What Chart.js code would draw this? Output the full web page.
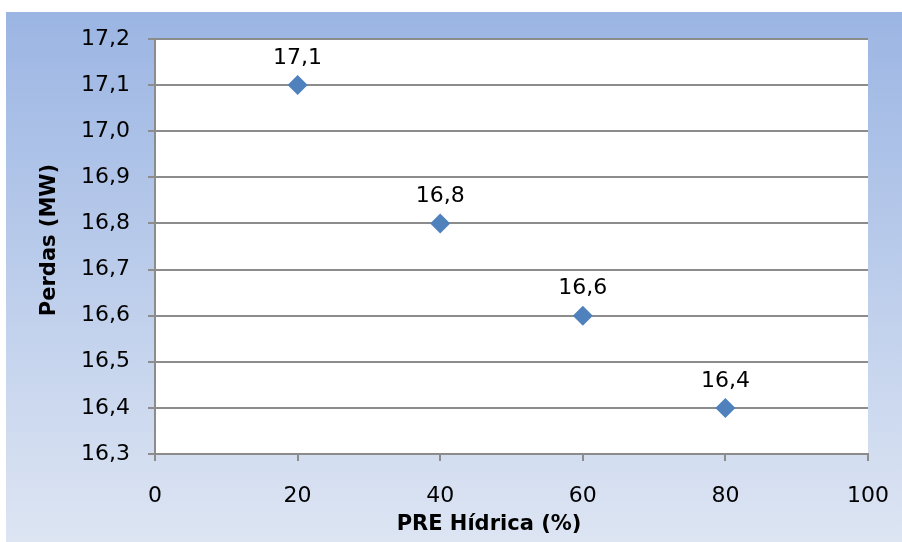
<!DOCTYPE html>
<html>
<head>
<meta charset="utf-8">
<script src="https://cdn.jsdelivr.net/npm/chart.js@4"></script>
<style>
  html, body { margin: 0; padding: 0; background: #fff; }
  #wrap { width: 902px; height: 542px; position: relative; }
</style>
</head>
<body>
<div id="wrap"><canvas id="chart" width="902" height="542"></canvas></div>
<script>
  const preHidrica = [20, 40, 60, 80];
  const perdas = [17.1, 16.8, 16.6, 16.4];
  const xTitle = "PRE Hídrica (%)";
  const yTitle = "Perdas (MW)";

  const FONT = "'DejaVu Sans', Verdana, sans-serif";
  const fmt = (v) => v.toFixed(1).replace(".", ",");

  // moldura com gradiente azul + títulos + rótulos dos pontos
  const decor = {
    id: "decor",
    beforeDraw(chart) {
      const ctx = chart.ctx;
      const g = ctx.createLinearGradient(0, 12, 0, 542);
      g.addColorStop(0, "#9bb5e3");
      g.addColorStop(1, "#dde5f3");
      ctx.save();
      ctx.fillStyle = g;
      ctx.fillRect(6, 12, 896, 530);
      const a = chart.chartArea;
      ctx.fillStyle = "#ffffff";
      ctx.fillRect(a.left, a.top, a.right - a.left, a.bottom - a.top);
      ctx.restore();
    },
    afterDraw(chart) {
      const ctx = chart.ctx;
      ctx.save();
      ctx.fillStyle = "#000";
      ctx.textAlign = "center";
      ctx.textBaseline = "middle";
      ctx.font = "22px " + FONT;
      chart.getDatasetMeta(0).data.forEach((pt, i) => {
        ctx.fillText(fmt(perdas[i]), pt.x, pt.y - 27);
      });
      ctx.font = "bold 21px " + FONT;
      ctx.fillText(xTitle, 489, 525);
      ctx.translate(50, 240);
      ctx.rotate(-Math.PI / 2);
      ctx.fillText(yTitle, 0, 0);
      ctx.restore();
    }
  };

  new Chart(document.getElementById("chart"), {
    type: "scatter",
    data: {
      datasets: [{
        data: preHidrica.map((x, i) => ({ x: x, y: perdas[i] })),
        pointStyle: "rectRot",
        pointRadius: 10,
        pointHoverRadius: 10,
        backgroundColor: "#4f81bd",
        borderColor: "#4f81bd",
        borderWidth: 0
      }]
    },
    options: {
      responsive: false,
      animation: false,
      layout: { padding: { top: 39, right: 34, left: 0, bottom: 0 } },
      plugins: { legend: { display: false }, tooltip: { enabled: false } },
      scales: {
        x: {
          type: "linear",
          min: 0, max: 100,
          afterFit(s) { s.height = 88; s.paddingRight = 0; },
          ticks: { stepSize: 20, padding: 22, color: "#000", font: { family: FONT, size: 22 } },
          grid: { display: true, drawOnChartArea: false, tickLength: 7, color: "#8c8c8c", lineWidth: 2 },
          border: { color: "#8c8c8c", width: 2 }
        },
        y: {
          min: 16.3, max: 17.2,
          afterFit(s) { s.width = 155; s.paddingTop = 0; s.paddingBottom = 0; },
          ticks: {
            stepSize: 0.1, padding: 18, color: "#000",
            font: { family: FONT, size: 22 },
            callback: (v) => fmt(v)
          },
          grid: { tickLength: 7, color: "#8c8c8c", lineWidth: 2 },
          border: { color: "#8c8c8c", width: 2 }
        }
      }
    },
    plugins: [decor]
  });
</script>
</body>
</html>
